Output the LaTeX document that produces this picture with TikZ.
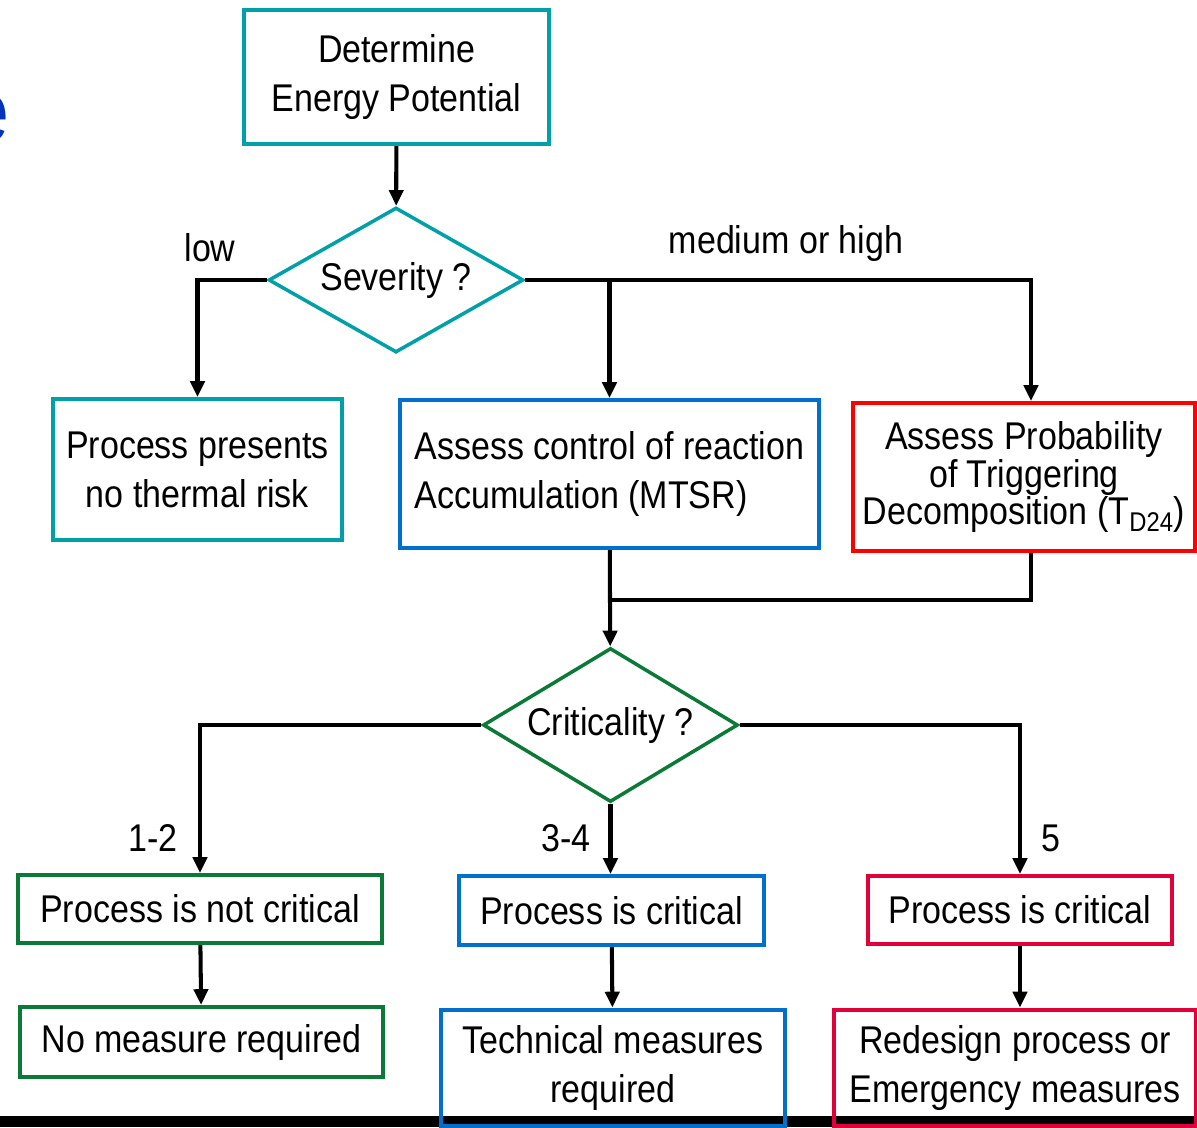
\documentclass[tikz,border=0pt]{standalone}
\usepackage{fontspec}
\setmainfont[FakeStretch=0.88]{Liberation Sans}
\usetikzlibrary{positioning,arrows.meta,calc,shapes.geometric}
\definecolor{cTeal}{HTML}{00A0A8}
\definecolor{cBlue}{HTML}{0070CC}
\definecolor{cRed}{HTML}{FF0000}
\definecolor{cCrimson}{HTML}{E2003A}
\definecolor{cGreen}{HTML}{0A7A36}
\definecolor{cTitle}{HTML}{0033BB}

\begin{document}
\begin{tikzpicture}[x=0.02cm,y=-0.02cm,
      font=\fontsize{22}{28}\selectfont,
      box/.style={draw=#1,line width=2.3pt,inner sep=0pt,align=center},
      decide/.style={diamond,draw=#1,line width=2pt,inner sep=0pt,
                     shape aspect=1.7,minimum width=5.1cm},
      arr/.style={-{Triangle[length=9pt,width=8pt]},line width=2.3pt},
      wire/.style={line width=2.3pt}]
    \clip (0,0) rectangle (1197,1127);
    \node[anchor=east,inner sep=0pt,text=cTitle,
          font=\fontsize{50}{50}\selectfont] (ttl) at (10,118) {e};
    \fill (0,1116) rectangle (1197,1127);
    % first decision
    \node[box=cTeal,minimum width=6.1cm,minimum height=2.68cm] (det) at (396.5,77)
      {Determine\\Energy Potential};
    \node[decide=cTeal,minimum height=2.9cm] (sev) at (396,280) {Severity ?};
    \node[box=cTeal,minimum width=5.78cm,minimum height=2.82cm] (norisk) at (197.5,469.5)
      {Process presents\\no thermal risk};
    \node[box=cBlue,minimum width=8.38cm,minimum height=2.96cm,align=left] (mtsr) at (609.5,474)
      {Assess control of reaction\\Accumulation (MTSR)};
    \node[box=cRed,minimum width=6.84cm,minimum height=2.96cm] (td24) at (1024,477)
      {Assess Probability\\[-6.5pt]of Triggering\\[-6.5pt]Decomposition (T\textsubscript{D24})};
    \node (low) at (210,248) {low};
    \node (medhigh) at (786,243) {medium or high};
    \coordinate (tdin) at ($(td24.north)+(7,0)$);
    \coordinate (tdout) at ($(td24.south)+(7,0)$);
    \draw[arr] (det) -- (sev);
    \draw[arr] (sev.west) -| (norisk.north);
    \draw[arr] (sev.east) -| (tdin);
    \draw[arr] (mtsr.north |- sev.east) -- (mtsr.north);
    % second decision
    \node[decide=cGreen,minimum height=3.08cm] (crit) at (610.5,725) {Criticality ?};
    \draw[wire] (tdout) |- ($(mtsr.south)+(0,50)$);
    \draw[arr] (mtsr) -- (crit);
    \node[box=cGreen,minimum width=7.28cm,minimum height=1.36cm] (notcrit) at (200,909)
      {Process is not critical};
    \node[box=cBlue,minimum width=6.1cm,minimum height=1.38cm] (critb) at (611.5,910.5)
      {Process is critical};
    \node[box=cCrimson,minimum width=6.08cm,minimum height=1.36cm] (critr) at (1020,910)
      {Process is critical};
    \node (lo) at (153,838) {1-2};
    \node (mid) at (566,838) {3-4};
    \node (hi) at (1051,838) {5};
    \draw[arr] (crit.west) -| (notcrit.north);
    \draw[arr] (crit.south) -- (crit.south |- critb.north);
    \draw[arr] (crit.east) -| (critr.north);
    % measures
    \node[box=cGreen,minimum width=7.26cm,minimum height=1.4cm] (nomeas) at (201.5,1042)
      {No measure required};
    \node[box=cBlue,minimum width=6.88cm,minimum height=2.34cm] (techm) at (613,1068)
      {Technical measures\\required};
    \node[box=cCrimson,minimum width=7.24cm,minimum height=2.34cm] (redes) at (1015,1068)
      {Redesign process or\\Emergency measures};
    \draw[arr] (notcrit) -- (nomeas);
    \draw[arr] (critb) -- (techm);
    \draw[arr] (critr.south) -- (critr.south |- redes.north);
  \end{tikzpicture}
\end{document}
